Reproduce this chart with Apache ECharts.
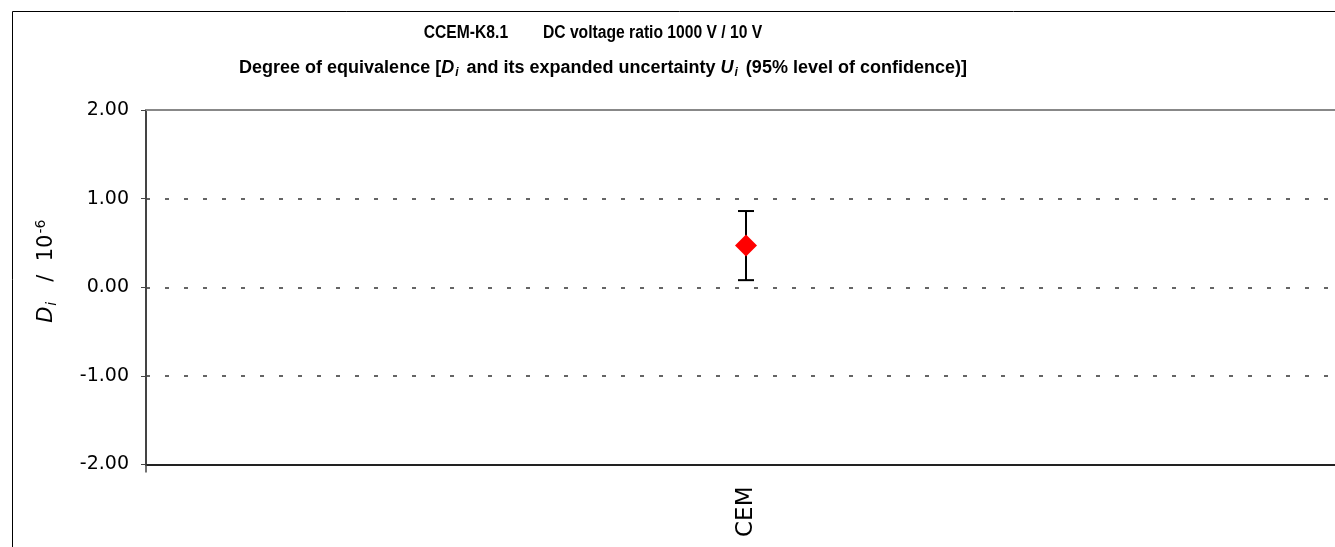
<!DOCTYPE html>
<html>
<head>
<meta charset="utf-8">
<script src="https://cdn.jsdelivr.net/npm/echarts@6/dist/echarts.min.js"></script>
<style>
  html, body { margin: 0; padding: 0; background: #fff; overflow: hidden; }
  #chart { width: 1346px; height: 547px; }
</style>
</head>
<body>
<div id="chart"></div>
<script>
// ---- data ----
const categories = ['CEM'];
const degreeValues = [0.47];        // D_i / 10^-6
const expandedUncertainty = [0.39]; // U_i / 10^-6
const yTicks = [-2, -1, 0, 1, 2];

const chart = echarts.init(document.getElementById('chart'));

const titleFont = '"Liberation Sans", Arial, sans-serif';
const axisFont = '"DejaVu Sans", "Liberation Sans", Arial, sans-serif';

const errData = categories.map((c, i) => [i, degreeValues[i] - expandedUncertainty[i], degreeValues[i] + expandedUncertainty[i]]);
const pointData = categories.map((c, i) => [i, degreeValues[i]]);

const option = {
  backgroundColor: '#fff',
  animation: false,
  title: [
    {
      text: 'Degree of equivalence [{bi|D}{sub|i} and its expanded uncertainty {bi|U}{sub|i} (95% level of confidence)]',
      left: 598, top: 52, textAlign: 'center',
      textStyle: {
        fontFamily: titleFont, fontSize: 18, fontWeight: 'bold', color: '#000',
        rich: {
          bi: { fontFamily: titleFont, fontSize: 18, fontWeight: 'bold', fontStyle: 'italic', color: '#000' },
          sub: { fontFamily: titleFont, fontSize: 12, fontWeight: 'bold', fontStyle: 'italic', color: '#000', padding: [10, 3, 0, 1] }
        }
      }
    }
  ],
  graphic: [
    {
      type: 'rect', silent: true, z: -1,
      shape: { x: 12.5, y: 11.5, width: 1400, height: 600 },
      style: { fill: 'none', stroke: '#000', lineWidth: 1 }
    },
    {
      type: 'text', silent: true,
      x: 593, y: 33, scaleX: 0.87,
      style: {
        text: 'CCEM-K8.1        DC voltage ratio 1000 V / 10 V',
        font: 'bold 18px "Liberation Sans", Arial, sans-serif',
        fill: '#000', align: 'center', verticalAlign: 'middle'
      }
    }
  ],
  grid: { left: 146, top: 110, right: 0, height: 354.5 },
  xAxis: [
    {
      type: 'category', data: categories, boundaryGap: true, position: 'bottom',
      axisLine: { onZero: false, lineStyle: { color: '#222', width: 2 } },
      axisTick: { show: true, length: 8, lineStyle: { color: '#444', width: 1.5 } },
      axisLabel: { rotate: 90, fontFamily: axisFont, fontSize: 23, color: '#000', margin: 22 },
      splitLine: { show: false }
    },
    {
      type: 'category', data: categories, position: 'top',
      axisLine: { onZero: false, lineStyle: { color: '#888', width: 2 } },
      axisTick: { show: false }, axisLabel: { show: false }, splitLine: { show: false }
    }
  ],
  yAxis: {
    type: 'value', min: -2, max: 2, interval: 1,
    axisLine: { show: true, lineStyle: { color: '#444', width: 2 } },
    axisTick: { show: true, length: 5, lineStyle: { color: '#444', width: 1 } },
    axisLabel: {
      fontFamily: axisFont, fontSize: 19, color: '#000', margin: 17,
      formatter: v => v.toFixed(2)
    },
    splitLine: { show: true, lineStyle: { color: '#333', type: [4, 15], width: 1.5 } },
    name: '{d|D}{s|i}{n|   /  10}{p|-6}',
    nameLocation: 'middle', nameRotate: 90, nameGap: 86,
    nameTextStyle: {
      fontFamily: axisFont, fontSize: 21, color: '#000',
      padding: [0, 0, 0, 32],
      rich: {
        d: { fontFamily: axisFont, fontSize: 21, fontStyle: 'italic', color: '#000' },
        s: { fontFamily: axisFont, fontSize: 14, fontStyle: 'italic', color: '#000', padding: [10, 0, 0, 1] },
        n: { fontFamily: axisFont, fontSize: 21, color: '#000' },
        p: { fontFamily: axisFont, fontSize: 14, color: '#000', padding: [0, 0, 12, 1] }
      }
    }
  },
  series: [
    {
      type: 'custom',
      data: errData,
      z: 3,
      renderItem: function (params, api) {
        const x = api.value(0);
        const lo = api.coord([x, api.value(1)]);
        const hi = api.coord([x, api.value(2)]);
        const half = 8;
        const style = { stroke: '#000', lineWidth: 2 };
        return {
          type: 'group',
          children: [
            { type: 'line', shape: { x1: lo[0], y1: lo[1], x2: hi[0], y2: hi[1] }, style: style },
            { type: 'line', shape: { x1: lo[0] - half, y1: lo[1], x2: lo[0] + half, y2: lo[1] }, style: style },
            { type: 'line', shape: { x1: hi[0] - half, y1: hi[1], x2: hi[0] + half, y2: hi[1] }, style: style }
          ]
        };
      }
    },
    {
      type: 'scatter',
      data: pointData,
      symbol: 'diamond',
      symbolSize: 22,
      z: 5,
      itemStyle: { color: '#ff0000', opacity: 1 }
    }
  ]
};

chart.setOption(option);
</script>
</body>
</html>
